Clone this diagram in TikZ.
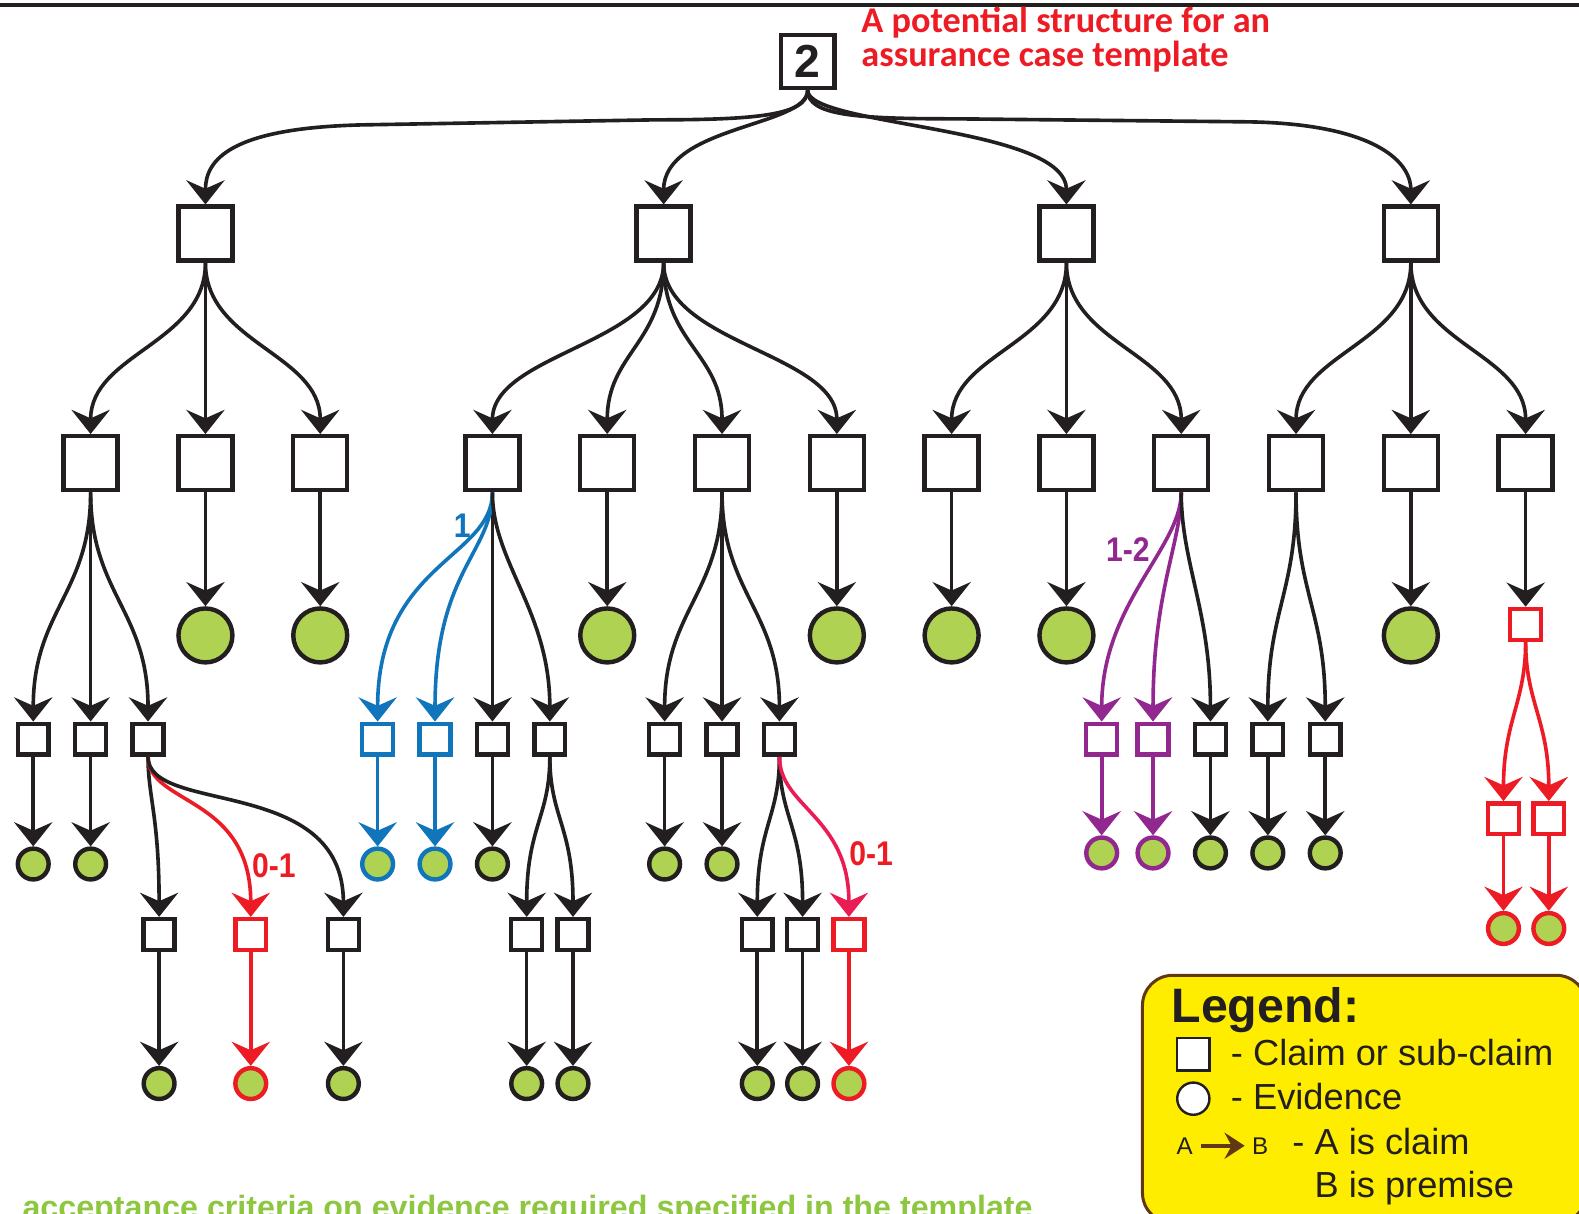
\documentclass[tikz,border=0pt]{standalone}
\usepackage{fontspec}
\setmainfont{Liberation Sans}
\newfontfamily\titlefont{Carlito}
\usetikzlibrary{arrows.meta}
\definecolor{ink}{RGB}{35,31,32}
\definecolor{evgreen}{RGB}{175,210,82}
\definecolor{pblue}{RGB}{17,117,188}
\definecolor{pred}{RGB}{237,28,36}
\definecolor{pcrimson}{RGB}{234,28,84}
\definecolor{ppurple}{RGB}{146,39,143}
\definecolor{legyellow}{RGB}{255,237,0}
\definecolor{legbrown}{RGB}{96,57,19}
\definecolor{notegreen}{RGB}{141,198,63}

\begin{document}
\begin{tikzpicture}[x=0.5pt,y=-0.5pt,
  claim/.style={rectangle,draw=ink,line width=2.2pt,fill=white,minimum size=26.8pt,inner sep=0pt},
  subclaim/.style={claim,minimum size=15.3pt},
  evid/.style={circle,draw=ink,line width=2.2pt,fill=evgreen,minimum size=26.8pt,inner sep=0pt},
  subevid/.style={evid,minimum size=15.3pt},
  link/.style={draw=ink,line width=1.8pt,-{Stealth[length=12pt,width=19pt,inset=4.2pt]}},
  card/.style={font=\bfseries\fontsize{17}{17}\selectfont,inner sep=0pt},
  legtext/.style={anchor=base west,inner sep=0pt,text=ink,font=\fontsize{18}{18}\selectfont},
]
\useasboundingbox (0,0) rectangle (1568,1205);

% top rule
\draw[ink,line width=2pt] (0,5) -- (1568,5);

% title
\node[anchor=base west,inner sep=0pt,text=pred,font=\titlefont\bfseries\fontsize{18}{18}\selectfont] (title1) at (855,32) {A potential structure for an};
\node[anchor=base west,inner sep=0pt,text=pred,font=\titlefont\bfseries\fontsize{18}{18}\selectfont] (title2) at (855,66) {assurance case template};

% root claim
\node[claim,minimum size=26.5pt,font=\bfseries\fontsize{23}{23}\selectfont,text=ink] (root) at (802,61) {2};

% first level claims
\foreach \n/\x in {A/204,B/659,C/1059,D/1401}
  \node[claim] (\n) at (\x,232) {};

\draw[link] (root.south) .. controls +(0,25) and +(100,0) .. (650,119) -- (360,124) .. controls +(-130,3) and +(0,-45) .. (A.north);
\draw[link] (root.south) .. controls +(0,36) and +(0,-78) .. (B.north);
\draw[link] (root.south) .. controls +(0,36) and +(0,-78) .. (C.north);
\draw[link] (root.south) .. controls +(0,25) and +(-100,0) .. (950,118) -- (1240,121) .. controls +(120,2) and +(0,-45) .. (D.north);

% second level claims
\foreach \n/\x in {a1/90,a2/204,a3/318,b1/489,b2/603,b3/717,b4/831,c1/945,c2/1059,c3/1173,d1/1287,d2/1401,d3/1515}
  \node[claim] (\n) at (\x,460) {};

\foreach \p/\c in {A/a1,A/a2,A/a3,B/b1,B/b2,B/b3,B/b4,C/c1,C/c2,C/c3,D/d1,D/d2,D/d3}
  \draw[link] (\p.south) .. controls +(0,80) and +(0,-80) .. (\c.north);

% evidence under second level claims
\foreach \p/\x in {a2/204,a3/318,b2/603,b4/831,c1/945,c2/1059,d2/1401} {
  \node[evid] (e\p) at (\x,631) {};
  \draw[link] (\p) -- (e\p);
}

% red branch on the right
\node[subclaim,draw=pred] (rb) at (1515,620) {};
\draw[link] (d3) -- (rb);
\foreach \n/\x in {r1/1493,r2/1538} {
  \node[subclaim,draw=pred] (\n) at (\x,813) {};
  \node[subevid,draw=pred] (e\n) at (\x,922) {};
  \draw[link,draw=pred] (rb.south) .. controls +(0,60) and +(0,-80) .. (\n.north);
  \draw[link,draw=pred] (\n) -- (e\n);
}

% third level claims
\foreach \n/\x in {s1/33,s2/90,s3/147,s6/489,s7/546,s8/660,s9/717,s10/774,s13/1202,s14/1259,s15/1316}
  \node[subclaim] (\n) at (\x,734) {};
\foreach \n/\x in {s4/375,s5/432}
  \node[subclaim,draw=pblue] (\n) at (\x,734) {};
\foreach \n/\x in {s11/1094,s12/1145}
  \node[subclaim,draw=ppurple] (\n) at (\x,734) {};

\foreach \p/\c in {a1/s1,a1/s2,a1/s3,b1/s6,b3/s8,b3/s9,b3/s10,d1/s14,d1/s15}
  \draw[link] (\p.south) .. controls +(0,100) and +(0,-110) .. (\c.north);
\draw[link,draw=pblue] (b1.south) .. controls +(0,65) and +(0,-157) .. (s4.north);
\draw[link,draw=pblue] (b1.south) .. controls +(0,60) and +(0,-150) .. (s5.north);
\draw[link] (b1.south) .. controls +(0,70) and +(0,-110) .. (s7.north);
\draw[link,draw=ppurple] (c3.south) .. controls +(0,55) and +(0,-117) .. (s11.north);
\draw[link,draw=ppurple] (c3.south) .. controls +(0,50) and +(0,-130) .. (s12.north);
\draw[link] (c3.south) .. controls +(0,70) and +(0,-110) .. (s13.north);

% evidence under third level claims
\foreach \p/\x in {s1/33,s2/90,s6/489,s8/660,s9/717} {
  \node[subevid] (e\p) at (\x,858) {};
  \draw[link] (\p) -- (e\p);
}
\foreach \p/\x in {s4/375,s5/432} {
  \node[subevid,draw=pblue] (e\p) at (\x,858) {};
  \draw[link,draw=pblue] (\p) -- (e\p);
}
\foreach \p/\x in {s11/1094,s12/1145} {
  \node[subevid,draw=ppurple] (e\p) at (\x,847) {};
  \draw[link,draw=ppurple] (\p) -- (e\p);
}
\foreach \p/\x in {s13/1202,s14/1259,s15/1316} {
  \node[subevid] (e\p) at (\x,847) {};
  \draw[link] (\p) -- (e\p);
}

% fourth level claims
\foreach \n/\x in {t1/158,t3/341,t4/523,t5/569,t6/752,t7/797}
  \node[subclaim] (\n) at (\x,928) {};
\foreach \n/\x in {t2/249,t8/843}
  \node[subclaim,draw=pred] (\n) at (\x,928) {};

\draw[link] (s3.south) .. controls +(0,40) and +(0,-100) .. (t1.north);
\draw[link,draw=pred] (s3.south) .. controls +(0,48) and +(0,-121) .. (t2.north);
\draw[link] (s3.south) .. controls +(0,58) and +(0,-141) .. (t3.north);
\draw[link] (s7.south) .. controls +(0,60) and +(0,-90) .. (t4.north);
\draw[link] (s7.south) .. controls +(0,60) and +(0,-90) .. (t5.north);
\draw[link] (s10.south) .. controls +(0,60) and +(0,-90) .. (t6.north);
\draw[link] (s10.south) .. controls +(0,60) and +(0,-90) .. (t7.north);
\draw[link,draw=pcrimson] (s10.south) .. controls +(0,50) and +(0,-100) .. (t8.north);

% evidence under fourth level claims
\foreach \p/\x in {t1/158,t3/341,t4/523,t5/569,t6/752,t7/797} {
  \node[subevid] (e\p) at (\x,1076) {};
  \draw[link] (\p) -- (e\p);
}
\foreach \p/\x in {t2/249,t8/843} {
  \node[subevid,draw=pred] (e\p) at (\x,1076) {};
  \draw[link,draw=pred] (\p) -- (e\p);
}

% cardinality labels
\node[card,text=pblue] (k1) at (459,522) {\scalebox{0.88}[1]{1}};
\node[card,text=pred] (k2) at (272,860) {\scalebox{0.88}[1]{0-1}};
\node[card,text=pred] (k3) at (865,848) {\scalebox{0.88}[1]{0-1}};
\node[card,text=ppurple] (k4) at (1120,546) {\scalebox{0.88}[1]{1-2}};

% legend
\node[anchor=north west,draw=legbrown,line width=1.5pt,fill=legyellow,rounded corners=15pt,
      minimum width=220.5pt,minimum height=123pt,inner sep=0pt] (legend) at (1133,967) {};
\node[anchor=base west,inner sep=0pt,text=ink,font=\bfseries\fontsize{24}{24}\selectfont] (legtitle) at (1163,1015) {Legend:};
\node[rectangle,draw=ink,line width=1.2pt,fill=white,minimum size=16pt,inner sep=0pt] (legsq) at (1185,1047) {};
\node[legtext] (legclaim) at (1222,1058) {- Claim or sub-claim};
\node[circle,draw=ink,line width=1.2pt,fill=white,minimum size=16pt,inner sep=0pt] (legcirc) at (1185,1091) {};
\node[legtext] (legev) at (1222,1102) {- Evidence};
\node[legtext,font=\fontsize{12}{12}\selectfont] (legA) at (1168,1146) {A};
\node[legtext,font=\fontsize{12}{12}\selectfont] (legB) at (1243,1146) {B};
\draw[legbrown,line width=2pt,-{Stealth[length=10pt,width=13pt,inset=3.5pt]},shorten <=4pt,shorten >=3.5pt] (legA.east) -- (legB.west);
\node[legtext] (legis) at (1283,1146) {- A is claim};
\node[legtext] (legprem) at (1305,1189) {B is premise};

% note along the bottom edge
\node[anchor=base west,inner sep=0pt,text=notegreen,font=\bfseries\fontsize{16}{16}\selectfont] (note) at (22,1210) {acceptance criteria on evidence required specified in the template};
\end{tikzpicture}
\end{document}
